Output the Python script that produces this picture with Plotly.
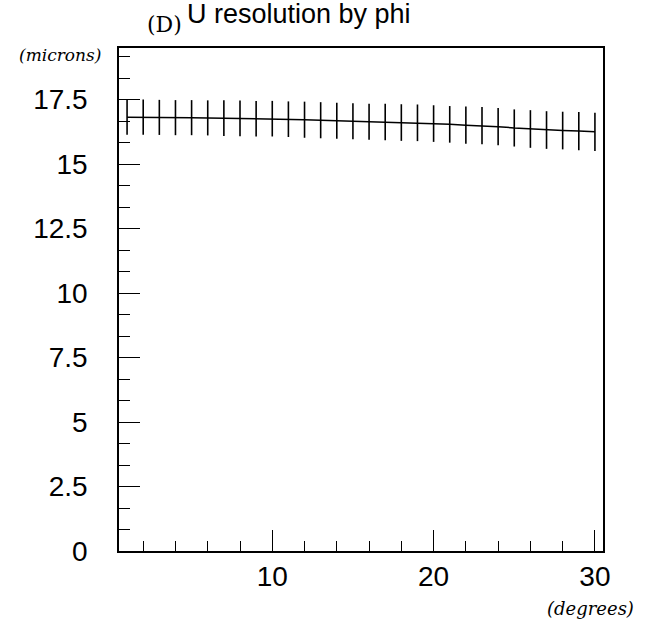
import plotly.graph_objects as go

phi_deg = list(range(1, 31))
resolution = [16.82, 16.82, 16.81, 16.80, 16.80, 16.79, 16.78, 16.77, 16.76, 16.76,
              16.74, 16.72, 16.70, 16.68, 16.66, 16.64, 16.63, 16.61, 16.60, 16.57,
              16.54, 16.51, 16.49, 16.45, 16.40, 16.36, 16.32, 16.30, 16.28, 16.25]
errors = [0.68, 0.68, 0.68, 0.68, 0.68, 0.68, 0.69, 0.69, 0.69, 0.69,
          0.69, 0.70, 0.70, 0.70, 0.70, 0.70, 0.71, 0.71, 0.71, 0.71,
          0.71, 0.72, 0.72, 0.72, 0.72, 0.73, 0.73, 0.73, 0.74, 0.74]
y_ticks = [0, 2.5, 5, 7.5, 10, 12.5, 15, 17.5]
y_tick_labels = ["0", "2.5", "5", "7.5", "10", "12.5", "15", "17.5"]
x_ticks = [10, 20, 30]

font_main = "Liberation Sans"
W, H = 646, 634
L, R, T, B = 119, 43, 48, 83
PW, PH = W - L - R, H - T - B


def px_x(x):
    return (x - L) / PW


def px_y(y):
    return (H - B - y) / PH


fig = go.Figure()
fig.add_trace(go.Scatter(
    x=phi_deg, y=resolution, mode="lines",
    line=dict(color="black", width=1.5),
    error_y=dict(type="data", array=errors, visible=True, color="black",
                 thickness=1.6, width=0),
    showlegend=False,
))

fig.update_layout(
    width=W, height=H,
    margin=dict(l=L, r=R, t=T, b=B),
    paper_bgcolor="white", plot_bgcolor="white",
    font=dict(family=font_main, color="black", size=28),
    xaxis=dict(range=[0.5, 30.5], tickvals=x_ticks, ticks="inside", ticklen=21,
               tickwidth=1.3, tickcolor="black", showgrid=False, zeroline=False,
               showline=True, linecolor="black", linewidth=1.5, mirror=True,
               ticklabelstandoff=0,
               minor=dict(dtick=2, tick0=0, ticks="inside", ticklen=10,
                          tickwidth=1.2, tickcolor="black", showgrid=False)),
    yaxis=dict(range=[0, 19.5], tickvals=y_ticks, ticktext=y_tick_labels,
               ticks="inside", ticklen=21, tickwidth=1.3, tickcolor="black",
               showgrid=False, zeroline=False, showline=True, linecolor="black",
               linewidth=1.5, mirror=True, ticklabelstandoff=24,
               minor=dict(dtick=2.5 / 3, tick0=0, ticks="inside", ticklen=11,
                          tickwidth=1.2, tickcolor="black", showgrid=False)),
)

fig.add_annotation(text="U resolution by phi", xref="paper", yref="paper",
                   x=px_x(299), y=px_y(0), xanchor="center", yanchor="top",
                   yshift=3, showarrow=False,
                   font=dict(size=27, family=font_main))
fig.add_annotation(text="(D)", xref="paper", yref="paper",
                   x=px_x(164), y=px_y(25), xanchor="center",
                   yanchor="middle", showarrow=False,
                   font=dict(size=22, family="DejaVu Serif"))
fig.add_annotation(text="(microns)", xref="paper", yref="paper",
                   x=px_x(60), y=px_y(55), xanchor="center",
                   yanchor="middle", showarrow=False,
                   font=dict(size=17, family="DejaVu Serif", style="italic"))
fig.add_annotation(text="(degrees)", xref="paper", yref="paper",
                   x=px_x(590), y=px_y(608), xanchor="center",
                   yanchor="middle", showarrow=False,
                   font=dict(size=18, family="DejaVu Serif", style="italic"))

fig.write_html("out.html", config={"displayModeBar": False},
               post_script="document.body.style.margin='0';document.body.style.padding='0';")
